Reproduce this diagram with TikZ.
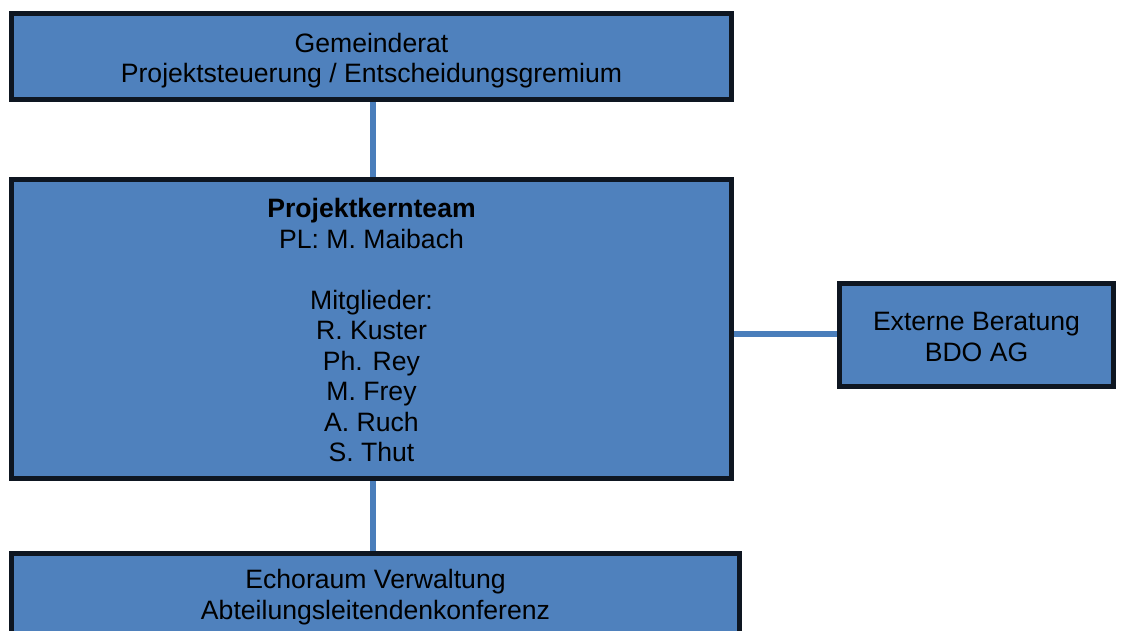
\documentclass[tikz,border=0pt]{standalone}
\usepackage{fontspec}
\setmainfont{Liberation Sans}
\definecolor{boxfill}{HTML}{4F81BD}
\definecolor{boxline}{HTML}{0E1621}
\definecolor{connline}{HTML}{4A7EBB}
\begin{document}
\begin{tikzpicture}[x=1pt,y=-1pt,
  orgbox/.style={draw=boxline, fill=boxfill, line width=5pt, rectangle, inner sep=0pt},
  boxtext/.style={align=center, inner sep=0pt, font=\fontsize{26.6}{30.5}\selectfont, text=black},
  conn/.style={draw=connline, line width=5.5pt}]
\clip (0,0) rectangle (1121,630);
\fill[white] (0,0) rectangle (1121,630);
\node[orgbox, minimum width=720pt, minimum height=86pt] (gr) at (371.5,56.5) {};
\node[orgbox, minimum width=720pt, minimum height=299.5pt] (kt) at (371.5,328.75) {};
\node[orgbox, minimum width=274pt, minimum height=103.5pt] (eb) at (976.5,334.75) {};
\node[orgbox, minimum width=728pt, minimum height=90pt, anchor=north] (ev) at (375.5,550.5) {};
\node[boxtext, yshift=-4pt] (grt) at (gr.center) {Gemeinderat\\Projektsteuerung / Entscheidungsgremium};
\node[boxtext, yshift=-1.5pt] (ktt) at (kt.center) {\textbf{Projektkernteam}\\PL: M. Maibach\\[30.5pt]Mitglieder:\\R. Kuster\\Ph. Rey\\M. Frey\\A. Ruch\\S. Thut};
\node[boxtext, yshift=-2pt] (ebt) at (eb.center) {Externe Beratung\\BDO AG};
\node[boxtext, yshift=1pt] (evt) at (ev.center) {Echoraum Verwaltung\\Abteilungsleitendenkonferenz};
\draw[conn] (gr.south -| 373,0) -- (kt.north -| 373,0);
\draw[conn] (kt.south -| 373,0) -- (ev.north -| 373,0);
\draw[conn] (kt.east |- 0,334) -- (eb.west |- 0,334);
\end{tikzpicture}
\end{document}
